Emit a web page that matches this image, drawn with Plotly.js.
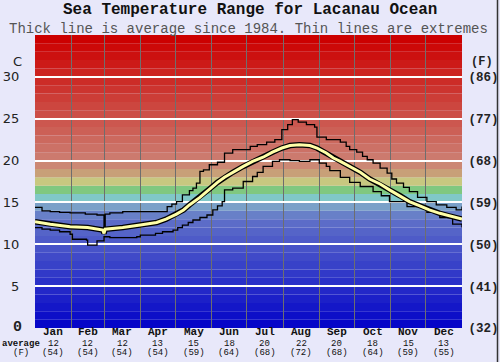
<!DOCTYPE html>
<html><head><meta charset="utf-8">
<script src="https://cdn.plot.ly/plotly-3.0.1.min.js"></script>
<style>html,body{margin:0;padding:0;background:#e8e8fa;}#chart{width:500px;height:362px;}</style>
</head><body><div id="chart"></div>
<script>
// ---- data ----
const months = ["Jan","Feb","Mar","Apr","May","Jun","Jul","Aug","Sep","Oct","Nov","Dec"];
const monthMid = [15.5,45,74.5,105,135.5,166,196.5,227.5,258,288.5,319,349.5];
const monthStart = [31,59,90,120,151,181,212,243,273,304,334];
const avgC = ["12","12","12","13","15","18","20","22","20","18","15","13"];
const avgF = ["(54)","(54)","(54)","(54)","(59)","(64)","(68)","(72)","(68)","(64)","(59)","(55)"];
const cTicks = [5,10,15,20,25,30];
const cLabels = ["5","10","15","20","25","30"];
const fTicks = [0,5,10,15,20,25,30];
const fLabels = ["(32)","(41)","(50)","(59)","(68)","(77)","(86)"];

const avgDay = [0,13,30,45,58,59,60,75,90,104,112,121,127,132,141,149,156,162,169,178,186,195,203,211,218,226,235,241,249,255,261,269,278,286,295,303,312,320,329,337,346,354,365];
const avgT   = [12.7,12.4,12.1,12.0,11.7,11.3,11.8,12.0,12.3,12.6,13.0,13.6,14.1,14.7,15.6,16.6,17.4,18.0,18.6,19.3,19.9,20.4,21.0,21.5,21.8,21.9,21.8,21.5,20.9,20.3,19.9,19.3,18.6,17.8,17.2,16.5,15.8,15.1,14.6,14.1,13.7,13.4,13.0];

const maxDay = [0,6,13,21,30,43,53,58,59,60,64,75,90,109,113,117,121,126,132,135,138,141,144,149,156,162,169,175,184,190,198,205,211,216,220,225,232,239,241,249,261,266,269,275,280,284,289,295,301,305,309,315,320,327,335,343,352,360,365];
const maxT   = [14.4,14.0,13.9,13.8,13.75,13.6,13.5,13.5,11.8,13.6,13.75,13.9,13.9,13.9,14.5,14.8,15.1,15.9,16.4,16.7,17.3,18.7,18.9,19.5,19.8,20.9,21.3,21.3,21.7,21.9,22.2,22.5,23.7,24.3,24.9,24.6,24.3,24.0,22.8,22.5,22.2,21.7,21.3,21.0,20.5,20.1,19.7,19.1,18.5,17.8,17.3,16.8,16.3,15.6,15.1,14.7,14.4,14.1,14.5];

const minDay = [0,6,13,21,30,32,44,45,51,53,59,64,79,87,90,103,109,118,122,126,131,135,141,147,152,156,160,162,169,178,186,190,195,203,209,218,226,235,243,249,252,261,269,278,289,296,303,318,335,346,357,365];
const minT   = [12.0,11.8,11.7,11.5,11.2,10.6,10.5,9.9,9.9,10.4,10.9,10.8,10.8,10.9,11.1,11.3,11.5,11.7,12.0,12.3,12.6,12.9,13.2,13.5,14.1,14.6,15.1,16.5,16.7,17.5,18.1,18.6,19.3,19.9,20.1,20.0,19.9,20.1,19.7,19.3,18.8,18.0,17.4,16.9,16.3,15.8,15.1,14.5,13.8,13.2,12.4,12.0];

// ---- styling helpers ----
const L = 35, R = 38, T = 35, B = 34, W = 500, H = 362;
const PW = W - L - R, PH = H - T - B;
const px = x => (x - L) / PW;
const py = y => (H - B - y) / PH;

function bandColor(b) {
  if (b <= 12) return `rgb(${Math.round(6 + b*7.2)},${Math.round(6 + b*8.5)},200)`;
  const fixed = {13:"#6880c8",14:"#7aa0c8",15:"#80c8c8",16:"#80c880",17:"#c8c880",18:"#c8a078",19:"#cc8874"};
  if (fixed[b]) return fixed[b];
  const t = (34 - b) / 14;
  return `rgb(204,${Math.round(122*t)},${Math.round(110*t)})`;
}
const shapes = [];
for (let b = 0; b < 35; b++) {
  shapes.push({type:"rect", layer:"below", xref:"paper", yref:"y", x0:0, x1:1, y0:b, y1:b+1,
    fillcolor: bandColor(b), line:{width:0}});
}
shapes.push({type:"line", xref:"paper", yref:"paper", x0:px(497.5), x1:px(497.5), y0:py(H), y1:py(0),
  line:{color:"#333", width:1.5}});

const mono = "'Liberation Mono', 'Courier New', monospace";
const ann = [
  {text:"<b>Sea Temperature Range for Lacanau Ocean</b>", x:px(250), y:py(10.5), font:{family:mono, size:16, color:"#111"}},
  {text:"Thick line is average since 1984. Thin lines are extremes", x:px(248), y:py(28.5), font:{family:mono, size:14, color:"#555"}},
  {text:"C", x:px(17.5), y:py(61), font:{family:"DejaVu Sans", size:13, color:"#222"}},
  {text:"<b>(F)</b>", x:px(482), y:py(62), font:{family:mono, size:12, color:"#222"}},
  {text:"<b>0</b>", x:px(17), y:py(327), font:{family:mono, size:15, color:"#222"}},
  {text:"<b>average</b>", x:px(21), y:py(344), font:{family:mono, size:9, color:"#111"}},
  {text:"(F)", x:px(21), y:py(353), font:{family:mono, size:9, color:"#111"}},
];
months.forEach((m, i) => {
  ann.push({text:"<b>"+m+"</b>", xref:"x", x:monthMid[i], y:py(332), font:{family:mono, size:11, color:"#111"}});
  ann.push({text:avgC[i], xref:"x", x:monthMid[i], y:py(344), font:{family:mono, size:9, color:"#111"}});
  ann.push({text:avgF[i], xref:"x", x:monthMid[i], y:py(353), font:{family:mono, size:9, color:"#111"}});
});
ann.forEach(a => { if (!a.xref) a.xref = "paper"; a.yref = "paper"; a.showarrow = false; a.xanchor = "center"; a.yanchor = "middle"; a.borderpad = 0; });

const traces = [
  {x:maxDay, y:maxT, mode:"lines", line:{color:"#000", width:1.3, shape:"hv"}, hoverinfo:"skip"},
  {x:minDay, y:minT, mode:"lines", line:{color:"#000", width:1.3, shape:"hv"}, hoverinfo:"skip"},
  {x:avgDay, y:avgT, mode:"lines", line:{color:"#000", width:5.5}, hoverinfo:"skip"},
  {x:avgDay, y:avgT, mode:"lines", line:{color:"#ffffa8", width:3}, hoverinfo:"skip"},
  {x:[0], y:[0], yaxis:"y2", mode:"markers", marker:{opacity:0}, hoverinfo:"skip"}
];

const layout = {
  width:W, height:H, showlegend:false,
  margin:{l:L, r:R, t:T, b:B, pad:0},
  paper_bgcolor:"#e8e8fa", plot_bgcolor:"#e8e8fa",
  xaxis:{range:[0,365], tickvals:monthStart, showticklabels:false, ticks:"", showgrid:true,
    gridcolor:"#6e6e6e", gridwidth:1, zeroline:false, showline:false, fixedrange:true},
  yaxis:{range:[0,35], tickvals:cTicks, ticktext:cLabels, showgrid:true, gridcolor:"#ffffff", gridwidth:2,
    zeroline:false, showline:false, ticks:"outside", ticklen:12, tickcolor:"rgba(0,0,0,0)",
    tickfont:{family:"DejaVu Sans", size:13, color:"#222"}, fixedrange:true},
  yaxis2:{range:[0,35], overlaying:"y", side:"right", tickvals:fTicks, ticktext:fLabels, showgrid:false,
    zeroline:false, showline:false, ticks:"outside", ticklen:3, tickcolor:"rgba(0,0,0,0)",
    tickfont:{family:mono, size:12.5, color:"#222", weight:"bold"}, fixedrange:true},
  shapes:shapes, annotations:ann
};
Plotly.newPlot("chart", traces, layout, {staticPlot:true, displayModeBar:false});
</script></body></html>
